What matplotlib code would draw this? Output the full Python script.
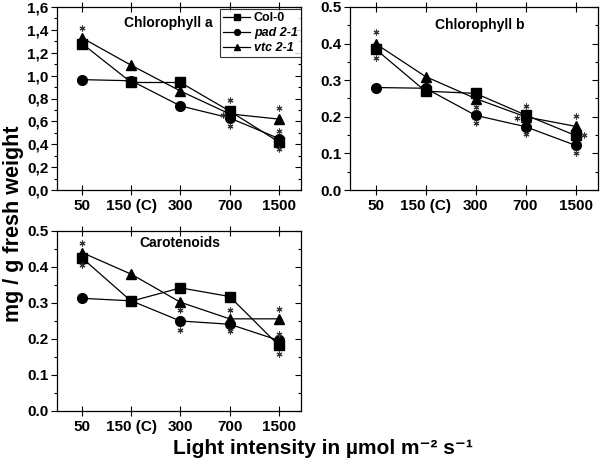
import matplotlib
matplotlib.use("Agg")
import matplotlib.pyplot as plt
from matplotlib.ticker import MultipleLocator, FuncFormatter

plt.rcParams['font.family'] = ['Liberation Sans', 'DejaVu Sans']
plt.rcParams['font.weight'] = 'bold'

categories = ["50", "150 (C)", "300", "700", "1500"]
series_names = ["Col-0", "pad 2-1", "vtc 2-1"]

chla_col = [1.28, 0.94, 0.94, 0.69, 0.42]
chla_pad = [0.965, 0.955, 0.735, 0.63, 0.45]
chla_vtc = [1.33, 1.09, 0.865, 0.665, 0.62]

chlb_col = [0.385, 0.27, 0.264, 0.205, 0.149]
chlb_pad = [0.28, 0.278, 0.204, 0.173, 0.122]
chlb_vtc = [0.40, 0.31, 0.25, 0.20, 0.174]

car_col = [0.425, 0.305, 0.342, 0.318, 0.182]
car_pad = [0.313, 0.306, 0.25, 0.241, 0.196]
car_vtc = [0.44, 0.38, 0.302, 0.256, 0.256]

# asterisk annotations: (category index, x offset, y value)
chla_stars = [(0, 0, 1.42), (3, 0, 0.785), (3, -0.14, 0.655), (3, 0, 0.56),
              (4, 0, 0.715), (4, 0, 0.515), (4, 0, 0.36)]
chlb_stars = [(0, 0, 0.433), (0, 0, 0.36), (2, 0, 0.227), (2, 0, 0.183),
              (3, 0, 0.23), (3, -0.18, 0.198), (3, 0, 0.153),
              (4, 0, 0.201), (4, 0.16, 0.149), (4, 0, 0.10)]
car_stars = [(0, 0, 0.468), (0, 0, 0.405), (2, 0, 0.28), (2, 0, 0.225),
             (3, 0, 0.28), (3, 0, 0.222), (4, 0, 0.283), (4, 0, 0.213),
             (4, 0, 0.158)]

fig = plt.figure(figsize=(6.0, 4.62), dpi=100)
W, H = 600, 462

def add_ax(x0, x1, ytop, ybot):
    return fig.add_axes([x0 / W, 1 - ybot / H, (x1 - x0) / W, (ybot - ytop) / H])

ax_a = add_ax(57, 301, 7, 190)
ax_b = add_ax(350, 598, 7, 190)
ax_c = add_ax(57, 301, 231, 411)

markers = ['s', 'o', '^']
x = list(range(len(categories)))

def draw(ax, data, ymax, step, comma, title, stars, title_x, title_y):
    handles = []
    for vals, m, name in zip(data, markers, series_names):
        h, = ax.plot(x, vals, color='black', lw=0.9, marker=m, ms=6.5 if m != 'o' else 7,
                     mfc='black', mec='black', label=name)
        handles.append(h)
    sx = [i + dx for i, dx, yv in stars]
    sy = [yv for i, dx, yv in stars]
    ax.plot(sx, sy, ls='none', marker=(6, 2, 0), ms=4.2, color='#333333', mew=0.8)
    ax.set_xlim(-0.51, 4.45)
    ax.set_ylim(0, ymax)
    ax.set_xticks(x)
    ax.set_xticklabels(categories, fontsize=11, fontweight='bold')
    ax.yaxis.set_major_locator(MultipleLocator(step))
    ax.yaxis.set_minor_locator(MultipleLocator(step / 2))
    if comma:
        ax.yaxis.set_major_formatter(FuncFormatter(lambda v, p: f"{v:.1f}".replace('.', ',')))
    else:
        ax.yaxis.set_major_formatter(FuncFormatter(lambda v, p: f"{v:.1f}"))
    for lab in ax.get_yticklabels():
        lab.set_fontweight('bold')
        lab.set_fontsize(11)
    ax.tick_params(axis='x', which='major', direction='inout', length=7, width=0.8,
                   top=True, pad=3)
    ax.tick_params(axis='y', which='major', direction='out', length=4, width=0.8,
                   labelsize=11, pad=2)
    ax.tick_params(axis='y', which='minor', direction='out', length=2.5, width=0.8)
    ax.tick_params(axis='y', which='both', right=True)
    ax.tick_params(axis='x', which='minor', bottom=False, top=False)
    for sp in ax.spines.values():
        sp.set_linewidth(0.9)
    ax.text(title_x, title_y, title, transform=ax.transAxes, ha='center', va='center',
            fontsize=10, fontweight='bold')
    return handles

h = draw(ax_a, [chla_col, chla_pad, chla_vtc], 1.6, 0.2, True, "Chlorophyll a", chla_stars, 0.455, 0.91)
draw(ax_b, [chlb_col, chlb_pad, chlb_vtc], 0.5, 0.1, False, "Chlorophyll b", chlb_stars, 0.525, 0.90)
draw(ax_c, [car_col, car_pad, car_vtc], 0.5, 0.1, False, "Carotenoids", car_stars, 0.504, 0.933)

# right-side ticks point inward
for ax in (ax_a, ax_b, ax_c):
    for t in ax.yaxis.get_major_ticks() + ax.yaxis.get_minor_ticks():
        t.tick2line.set_marker(matplotlib.lines.TICKLEFT)

leg = ax_a.legend(handles=h, loc='upper right', bbox_to_anchor=(1.0, 0.99),
                  fontsize=9, frameon=True, fancybox=False, handlelength=2.2,
                  handletextpad=0.3, borderpad=0.25, labelspacing=0.25,
                  borderaxespad=0.0, markerscale=0.6)
leg.get_frame().set_edgecolor('black')
leg.get_frame().set_linewidth(0.8)
for i, t in enumerate(leg.get_texts()):
    t.set_fontweight('bold')
    if i > 0:
        t.set_fontstyle('italic')

fig.text(14 / W, 1 - 224 / H, "mg / g fresh weight", rotation=90, ha='center', va='center',
         fontsize=15.5, fontweight='bold')
fig.text(323 / W, 1 - 449 / H, "Light intensity in µmol m\u207B\u00B2 s\u207B\u00B9",
         ha='center', va='center', fontsize=15, fontweight='bold')

fig.savefig("out.png", dpi=100)
